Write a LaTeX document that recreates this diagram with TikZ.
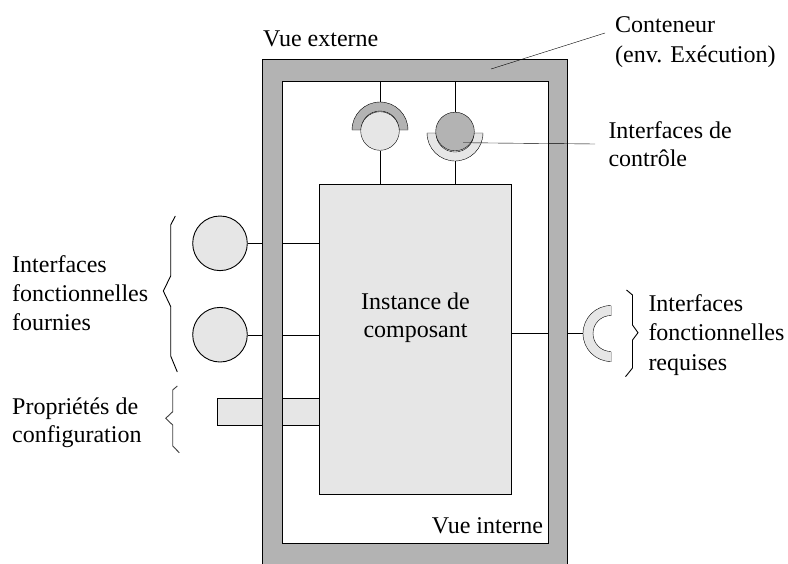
\documentclass[tikz,border=0pt]{standalone}
\usepackage{fontspec}
\setmainfont{Liberation Serif}
\usetikzlibrary{calc}
\pgfdeclarelayer{bg}
\pgfsetlayers{bg,main}
\definecolor{dkgray}{HTML}{B3B3B3}
\definecolor{ltgray}{HTML}{E6E6E6}
\begin{document}
\begin{tikzpicture}[x=1pt,y=-1pt,line width=0.9pt,
  lbl/.style={font=\fontsize{24}{28.8}\selectfont,inner sep=0pt,align=left},
  port/.style={circle,draw,inner sep=0pt,minimum size=54.6pt,fill=ltgray},
  ctrl/.style={circle,draw,inner sep=0pt,minimum size=38.6pt},
  boxn/.style={draw,fill=ltgray,inner sep=0pt,anchor=north west},
  brace/.style={line width=0.9pt}]
\useasboundingbox (0,0) rectangle (788,563);
% frame (container)
\coordinate (oNW) at (262.5,59.5);
\coordinate (oSE) at (567,566);
\coordinate (iNW) at (282,81);
\coordinate (iSE) at (548.5,543.5);
\filldraw[fill=dkgray,even odd rule] (oNW) rectangle (oSE) (iNW) rectangle (iSE);
% component
\node[boxn,minimum width=192pt,minimum height=310pt] (comp) at (319,184) {};
\node[lbl,align=center,anchor=base,font=\fontsize{24}{27.8}\selectfont] (comptxt) at (415.5,337.2) {Instance de\\composant};
% provided interfaces
\node[port] (p1) at (220,243.3) {};
\node[port] (p2) at (220,334.7) {};
% configuration
\begin{pgfonlayer}{bg}
\node[boxn,minimum width=102.3pt,minimum height=26.7pt] (cfg) at (216.7,398.3) {};
\draw (p1.east) -- (p1.east -| comp.west);
\draw (p2.east) -- (p2.east -| comp.west);
\end{pgfonlayer}
% required interface
\coordinate (req) at (611,333.5);
\coordinate (reqL) at ($(req)+(-28,0)$);
\begin{pgfonlayer}{bg}
\draw (comp.east |- req) -- (reqL);
\end{pgfonlayer}
\fill[ltgray] ($(req)+(0,-28)$) arc[start angle=90,end angle=270,radius=28pt]
  -- ($(req)+(0,18)$) arc[start angle=270,end angle=90,radius=18pt] -- cycle;
\draw ($(req)+(0,-28)$) arc[start angle=90,end angle=270,radius=28pt];
\draw ($(req)+(0,18)$) arc[start angle=270,end angle=90,radius=18pt];
\draw[gray!50,line width=0.6pt] ($(req)+(0,-28)$) -- ($(req)+(0,-18)$) ($(req)+(0,18)$) -- ($(req)+(0,28)$);
% control interface 1
\coordinate (k1) at (380,130);
\filldraw[fill=dkgray] ($(k1)+(-28,0)$) arc[start angle=180,end angle=0,radius=28pt]
  -- ($(k1)+(19,0)$) arc[start angle=0,end angle=180,radius=19pt] -- cycle;
\node[ctrl,fill=ltgray] (c1) at (380,131) {};
\draw (c1.north |- iNW) -- ($(k1)+(0,-28)$);
\draw (c1.south) -- (c1.south |- comp.north);
% control interface 2
\coordinate (k2) at (455,133);
\filldraw[fill=ltgray] ($(k2)+(-28,0)$) arc[start angle=180,end angle=360,radius=28pt]
  -- ($(k2)+(19,0)$) arc[start angle=0,end angle=-180,radius=19pt] -- cycle;
\node[ctrl,fill=dkgray] (c2) at (455,131.5) {};
\draw (c2.north |- iNW) -- (c2.north);
\draw ($(k2)+(0,28)$) -- (k2 |- comp.north);
% leaders
\coordinate (ctrlA) at (463,142.7);
\coordinate (ctrlB) at (595,144);
\draw (ctrlA) -- (ctrlB);
\coordinate (contA) at (491,69);
\coordinate (contB) at (605,33);
\draw (contA) -- (contB);
% braces
\draw[brace] (175.3,216) -- (170.7,225) -- (170.7,276) -- (163.3,291) -- (170.7,306.5) -- (170.7,356) -- (177.3,372);
\draw[brace,black!75] (177.3,386) -- (172.7,390) -- (172.7,411.7) -- (165.7,418.3) -- (172.7,425) -- (172.7,446) -- (179.3,452.7);
\draw[brace] (626.5,290) -- (632.5,295) -- (632.5,325) -- (638,332.7) -- (632.5,340) -- (632.5,368) -- (625.5,376.7);
% labels (base anchor = baseline of the last line)
\node[lbl,anchor=base west] (vext) at (263,46.7) {Vue externe};
\node[lbl,anchor=base east] (vint) at (543.3,533.3) {Vue interne};
\node[lbl,anchor=base west,font=\fontsize{24}{30}\selectfont] (cont) at (615,62) {Conteneur\\(env. Exécution)};
\node[lbl,anchor=base west,font=\fontsize{24}{28.4}\selectfont] (ctrllbl) at (608.3,166.7) {Interfaces de\\contrôle};
\node[lbl,anchor=base west,font=\fontsize{24}{29.2}\selectfont] (fourn) at (12,330.4) {Interfaces\\fonctionnelles\\fournies};
\node[lbl,anchor=base west,font=\fontsize{24}{28}\selectfont] (prop) at (12,442.5) {Propriétés de\\configuration};
\node[lbl,anchor=base west,font=\fontsize{24}{29.2}\selectfont] (requ) at (648.3,370) {Interfaces\\fonctionnelles\\requises};
\end{tikzpicture}
\end{document}
